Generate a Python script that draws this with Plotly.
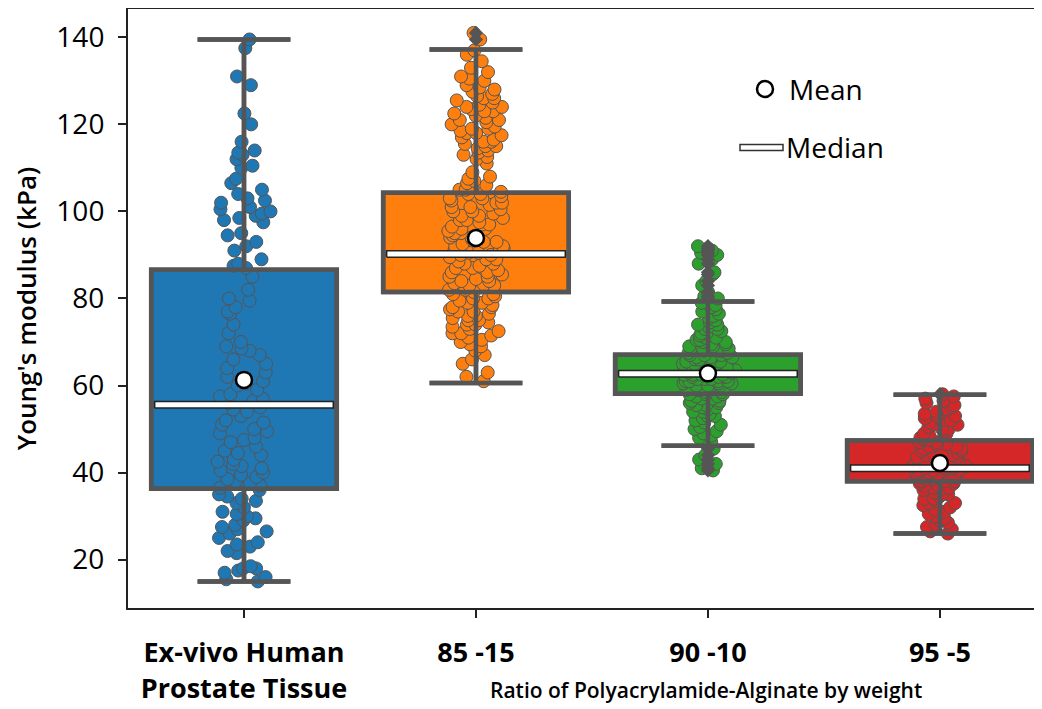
import plotly.graph_objects as go

# ---------------- data ----------------
categories = ["Ex-vivo Human<br>Prostate Tissue", "85 -15", "90 -10", "95 -5"]
colors = ["#1f77b4", "#ff7f0e", "#2ca02c", "#d62728"]

q1 = [36.3, 81.5, 58.1, 38.0]
medians = [55.6, 90.2, 62.7, 41.0]
q3 = [86.6, 104.3, 67.1, 47.4]
lower_whisker = [15.0, 60.6, 46.2, 26.0]
upper_whisker = [139.5, 137.2, 79.3, 57.9]
means = [61.3, 93.9, 62.8, 42.2]

tissue = [139.5, 137.5, 131, 129, 122.5, 120, 116, 114, 113.5, 113, 112, 110.5, 110,
          107.5, 106.5, 105, 104, 103, 102.5, 102, 101, 100.5, 100, 99.5, 99, 98.5, 98,
          97.5, 95, 94.5, 93, 92, 91, 89, 88, 87.5, 87, 85, 82, 80, 79.5, 78, 77, 76.5,
          74, 72, 70, 69, 68.5, 68, 67, 66, 65, 64, 63, 62, 61, 60.5, 60, 59, 58, 57.5,
          57, 56.5, 56, 55, 54.5, 54, 53, 52, 51.5, 51, 50, 49.5, 49, 48, 47.5, 47, 46,
          45, 44.5, 44, 43, 42.5, 42, 41.5, 41, 40.5, 40, 39.5, 39, 38.5, 38, 37.5, 37,
          36.5, 36, 35, 34.5, 34, 33.5, 33, 32, 31, 30.5, 30, 29.5, 29, 28, 27.5, 27,
          26.5, 26, 25, 24, 23.5, 23, 22, 21.5, 18.5, 18, 18, 17.5, 17, 16, 15.5, 15]

pa_85_15 = [141, 139.5, 137, 136, 134.5, 133, 132, 131, 130.5, 130, 129, 128.5,
            128, 127.5, 127, 126.5, 126, 125.5, 125, 124.5, 124, 123.5, 123, 122.5, 122,
            121.5, 121, 120.5, 120, 119.5, 119, 118.5, 118, 117.5, 117, 116.5, 116, 115.5,
            115, 114.5, 114, 113.5, 113, 112.5, 112, 111, 109, 108, 107.5, 107, 106.5, 106,
            105.5, 105, 104.5, 104, 103.5, 103, 102.5, 102, 101.5, 101, 100.5, 100, 99.5,
            99, 98.5, 98, 97.5, 97, 96.5, 96, 95.5, 95, 94.5, 94, 93.5, 93, 92.5, 92, 91.5,
            91, 90.5, 90.5, 90, 90, 89.5, 89, 88.5, 88, 87.5, 87, 86.5, 86, 85.5, 85, 84.5,
            84, 83.5, 83, 82.5, 82, 81.5, 81, 80.5, 80, 79.5, 79, 78.5, 78, 77.5, 77, 76.5,
            76, 75.5, 75, 74.5, 74, 73.5, 73, 72.5, 72, 71.5, 71, 70.5, 70, 69.5, 69, 68,
            67, 66, 65, 63, 62, 61,
            72, 74, 76, 78, 80, 82, 84, 86, 88, 89, 91, 93, 95, 97, 99, 101, 103, 105, 75,
            77, 79, 81, 83, 85, 87, 92, 94, 96, 98, 100, 102, 104, 118, 121, 124, 126, 116,
            119, 123, 115]

pa_90_10 = [92, 91.5, 91, 90.5, 90, 89, 88, 86, 85.5, 84, 83, 81.5, 80.5, 80,
            79, 78.5, 78, 77.5, 77, 76.5, 76, 75.5, 75, 74.5, 74, 74, 73.5, 73, 73, 72.5,
            72, 72, 71.5, 71, 71, 70.5, 70.5, 70, 70, 69.5, 69.5, 69, 69, 68.5, 68.5, 68,
            68, 68, 67.5, 67.5, 67, 67, 67, 66.5, 66.5, 66.5, 66, 66, 66, 65.5, 65.5, 65.5,
            65, 65, 65, 65, 64.5, 64.5, 64.5, 64, 64, 64, 64, 63.5, 63.5, 63.5, 63, 63, 63,
            63, 62.5, 62.5, 62.5, 62.5, 62, 62, 62, 62, 61.5, 61.5, 61.5, 61, 61, 61, 61,
            60.5, 60.5, 60.5, 60, 60, 60, 59.5, 59.5, 59.5, 59, 59, 59, 58.5, 58.5, 58, 58,
            58, 57.5, 57.5, 57, 57, 56.5, 56.5, 56, 56, 55.5, 55.5, 55, 55, 54.5, 54, 54,
            53.5, 53, 53, 52.5, 52, 51.5, 51, 50.5, 50, 49.5, 49, 48.5, 48, 47.5, 47, 46.5,
            45.5, 44, 43, 42, 41, 40.5]

pa_95_5 = [58, 57.5, 57, 56.5, 56, 55.5, 55, 54.5, 54, 53.5, 53, 53, 52.5, 52, 52, 51.5,
           51, 51, 50.5, 50, 50, 49.5, 49, 49, 48.5, 48, 48, 47.5, 47.5, 47, 47, 46.5,
           46.5, 46, 46, 45.5, 45.5, 45, 45, 44.5, 44.5, 44, 44, 44, 43.5, 43.5, 43, 43,
           43, 42.5, 42.5, 42.5, 42, 42, 42, 41.5, 41.5, 41.5, 41, 41, 41, 41, 40.5, 40.5,
           40.5, 40, 40, 40, 39.5, 39.5, 39.5, 39, 39, 39, 38.5, 38.5, 38, 38, 38, 37.5,
           37.5, 37, 37, 36.5, 36.5, 36, 36, 35.5, 35, 35, 34.5, 34, 34, 33.5, 33, 33,
           32.5, 32, 31.5, 31, 30.5, 30, 29.5, 29, 28.5, 28, 27.5, 27, 26.5, 26]

groups = [tissue, pa_85_15, pa_90_10, pa_95_5]
y_ticks = [20, 40, 60, 80, 100, 120, 140]

# ---------------- figure ----------------
FONT = "Open Sans"
GRAY = "#555555"
BOX_W = 0.8
HALF_IN = 0.385       # median bar half width (inside box border)
MED_H = 0.75          # median bar half height (data units)

fig = go.Figure()

for i, (vals, col) in enumerate(zip(groups, colors)):
    stats = dict(x=[i], q1=[q1[i]], median=[medians[i]], q3=[q3[i]],
                 lowerfence=[lower_whisker[i]], upperfence=[upper_whisker[i]])
    # filled box
    fig.add_trace(go.Box(**stats, width=BOX_W, fillcolor=col, boxpoints=False,
                         line=dict(color=GRAY, width=4.5), whiskerwidth=0.5,
                         showlegend=False, hoverinfo="skip"))
    # strip points (library jitter)
    fig.add_trace(go.Box(x=[i] * len(vals), y=vals, width=BOX_W, boxpoints="all",
                         jitter=0.3, pointpos=0, fillcolor="rgba(0,0,0,0)",
                         line=dict(color="rgba(0,0,0,0)", width=0),
                         marker=dict(color=col, size=13, opacity=1,
                                     line=dict(color=GRAY, width=1)),
                         showlegend=False, hoverinfo="skip"))
    # whiskers / outline over the points
    fig.add_trace(go.Box(**stats, width=BOX_W, fillcolor="rgba(0,0,0,0)", boxpoints=False,
                         line=dict(color=GRAY, width=4.5), whiskerwidth=0.5,
                         showlegend=False, hoverinfo="skip"))
    # fliers
    fl = [v for v in vals if v > upper_whisker[i] or v < lower_whisker[i]]
    if fl:
        fig.add_trace(go.Scatter(x=[i] * len(fl), y=fl, mode="markers",
                                 marker=dict(symbol="diamond", color=GRAY, size=11,
                                             line=dict(width=0)),
                                 showlegend=False, hoverinfo="skip"))
    # median bar
    m = medians[i]
    fig.add_trace(go.Scatter(x=[i - HALF_IN, i + HALF_IN, i + HALF_IN, i - HALF_IN, i - HALF_IN],
                             y=[m - MED_H, m - MED_H, m + MED_H, m + MED_H, m - MED_H],
                             mode="lines", fill="toself", fillcolor="white",
                             line=dict(color="#222222", width=1.5),
                             showlegend=False, hoverinfo="skip"))

# means
fig.add_trace(go.Scatter(x=list(range(len(categories))), y=means, mode="markers",
                         marker=dict(symbol="circle", color="white", size=16,
                                     line=dict(color="black", width=2.5)),
                         showlegend=False, hoverinfo="skip"))

# ---------------- legend (manual) ----------------
# window coords -> paper coords (page body has an 8px offset)
PW, PH, PL, PB = 914.0, 599.0, 128.0, 608.0
def px(x): return (x - PL) / PW
def py(y): return (PB - y) / PH

fig.add_shape(type="circle", xref="paper", yref="paper", xsizemode="pixel", ysizemode="pixel",
              xanchor=px(765), yanchor=py(89), x0=-8, x1=8, y0=-8, y1=8,
              fillcolor="white", line=dict(color="black", width=2.5))
fig.add_shape(type="rect", xref="paper", yref="paper", ysizemode="pixel",
              x0=px(740), x1=px(783), yanchor=py(147.5), y0=-3, y1=3,
              fillcolor="white", line=dict(color="#333333", width=1.5))
fig.add_annotation(text="Mean", xref="paper", yref="paper", x=px(787), y=py(89),
                   xanchor="left", yanchor="middle", showarrow=False,
                   font=dict(family=FONT, size=28, color="black"))
fig.add_annotation(text="Median", xref="paper", yref="paper", x=px(784), y=py(147.5),
                   xanchor="left", yanchor="middle", showarrow=False,
                   font=dict(family=FONT, size=28, color="black"))
fig.add_annotation(text="Ratio of Polyacrylamide-Alginate by weight", xref="paper", yref="paper",
                   x=px(706), y=py(690), xanchor="center", yanchor="middle", showarrow=False,
                   font=dict(family=FONT, size=21, color="black", weight=600))

fig.update_layout(
    width=1034, height=701,
    margin=dict(l=120, r=0, t=1, b=101, autoexpand=False),
    paper_bgcolor="white", plot_bgcolor="white",
    boxmode="overlay", showlegend=False,
    font=dict(family=FONT, color="black"),
)
fig.update_xaxes(range=[-0.5, 3.44], tickmode="array", automargin=False,
                 tickvals=list(range(len(categories))), ticktext=categories,
                 showline=True, linecolor="#222222", linewidth=2, mirror=True,
                 ticks="outside", ticklen=8, tickwidth=2, tickcolor="#222222",
                 showgrid=False, zeroline=False,
                 tickfont=dict(family=FONT, size=27, weight="bold"), ticklabelstandoff=12)
fig.update_yaxes(range=[8.9, 146.5], tickmode="array", tickvals=y_ticks, automargin=False,
                 showline=True, linecolor="#222222", linewidth=2, mirror=False,
                 ticks="outside", ticklen=8, tickwidth=2, tickcolor="#222222",
                 showgrid=False, zeroline=False, ticklabelstandoff=8,
                 tickfont=dict(family=FONT, size=28),
                 title=dict(text="Young's modulus (kPa)", standoff=14,
                            font=dict(family=FONT, size=26, weight=600)))

fig.write_html("out.html")
